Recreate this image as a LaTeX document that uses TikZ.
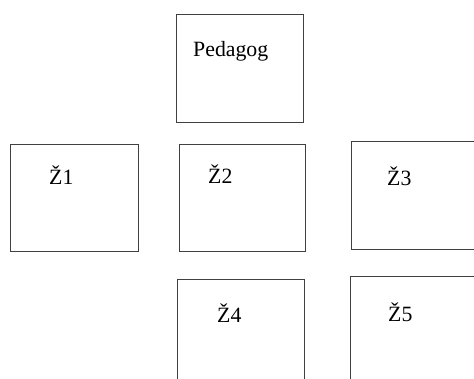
\documentclass[tikz,border=0pt]{standalone}
\usepackage{fontspec}
\setmainfont{Liberation Serif}
\usetikzlibrary{positioning}
\tikzstyle{mybox} = [draw=black!75, line width=0.9pt, rectangle, fill=white,
    minimum width=127pt, minimum height=107pt, inner sep=0pt, anchor=north west]
\tikzstyle{boxtext} = [font=\fontsize{21.8}{26}\selectfont, inner sep=0pt, anchor=base west]

\begin{document}
\begin{tikzpicture}[x=1pt, y=-1pt]
    \useasboundingbox (0,0) rectangle (474,378);
    \clip (0,0) rectangle (474,378);
    % pedagog on top
    \node [mybox, minimum height=108pt] (ped) at (176,14) {};
    \node [boxtext] (pedtext) at (193,56) {Pedagog};
    % first row of pupils
    \node [mybox, minimum width=128pt] (z1) at (9.5,144) {};
    \node [boxtext] (z1text) at (49,184) {Ž1};
    \node [mybox, minimum width=126pt] (z2) at (179,144) {};
    \node [boxtext] (z2text) at (208,183) {Ž2};
    \node [mybox, minimum height=108pt] (z3) at (351,141) {};
    \node [boxtext] (z3text) at (387,185) {Ž3};
    % second row
    \node [mybox] (z4) at (177,279) {};
    \node [boxtext] (z4text) at (217,322) {Ž4};
    \node [mybox] (z5) at (350,276) {};
    \node [boxtext] (z5text) at (388,321) {Ž5};
\end{tikzpicture}
\end{document}
